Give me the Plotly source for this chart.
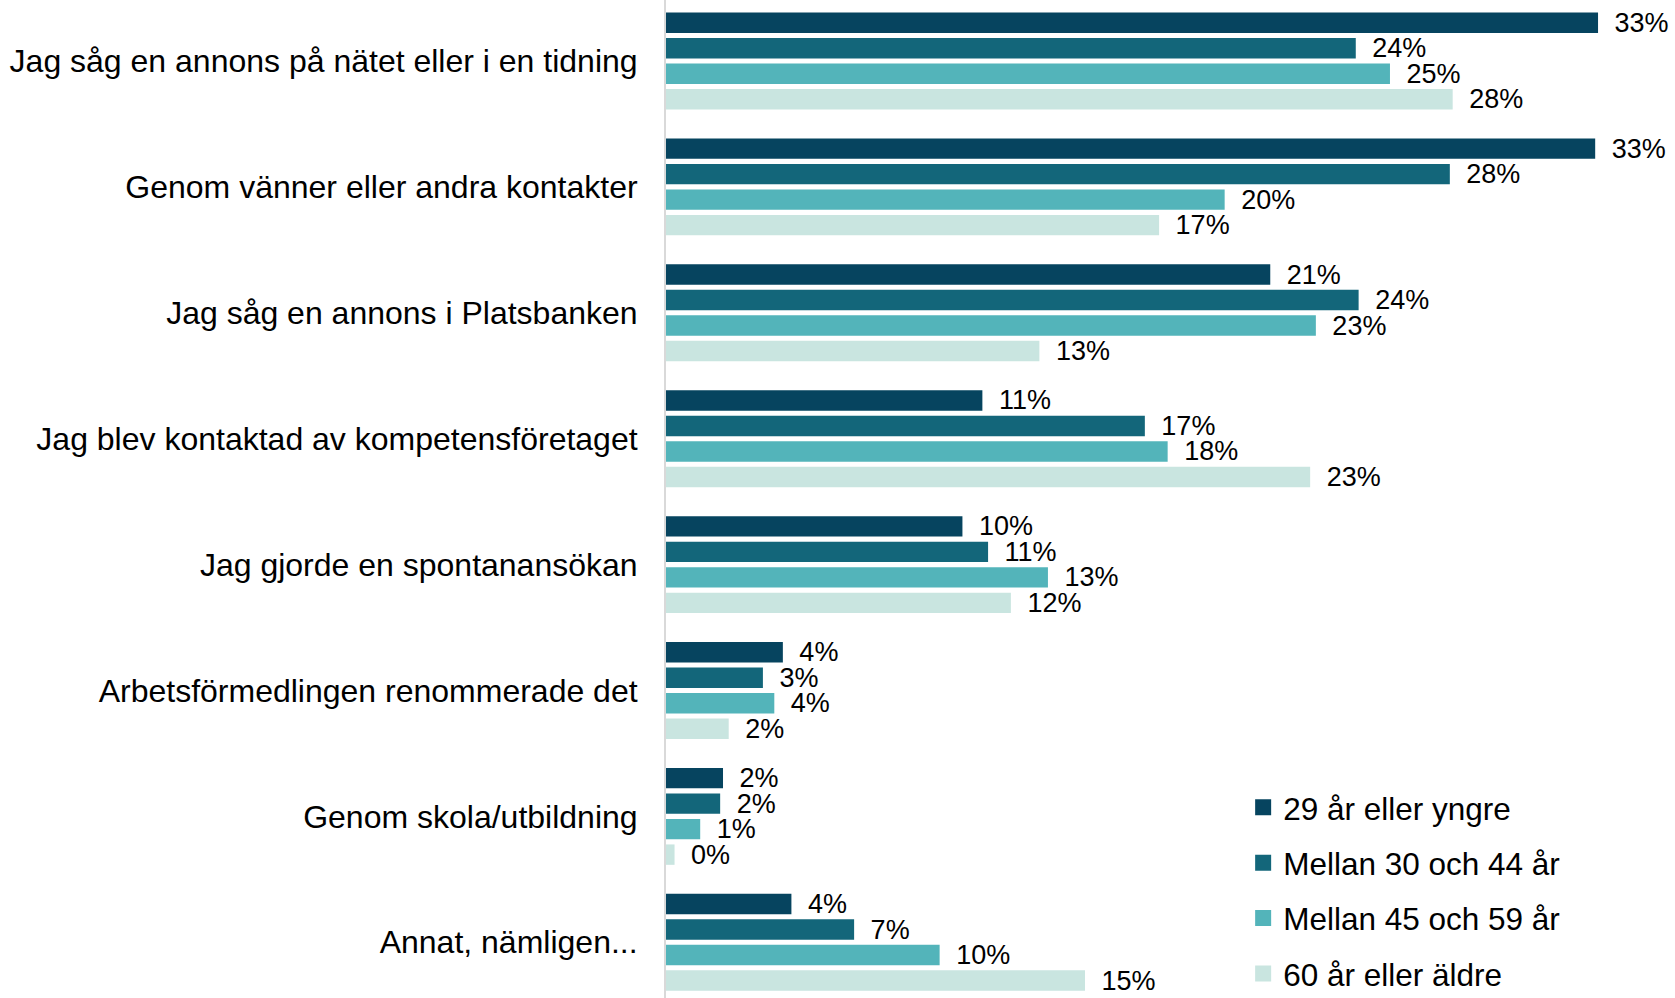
import plotly.graph_objects as go

categories = [
    "Jag såg en annons på nätet eller i en tidning",
    "Genom vänner eller andra kontakter",
    "Jag såg en annons i Platsbanken",
    "Jag blev kontaktad av kompetensföretaget",
    "Jag gjorde en spontanansökan",
    "Arbetsförmedlingen renommerade det",
    "Genom skola/utbildning",
    "Annat, nämligen...",
]
series_names = ["29 år eller yngre", "Mellan 30 och 44 år", "Mellan 45 och 59 år", "60 år eller äldre"]
age_29 = [32.7, 32.6, 21.2, 11.1, 10.4, 4.1, 2.0, 4.4]
age_30_44 = [24.2, 27.5, 24.3, 16.8, 11.3, 3.4, 1.9, 6.6]
age_45_59 = [25.4, 19.6, 22.8, 17.6, 13.4, 3.8, 1.2, 9.6]
age_60 = [27.6, 17.3, 13.1, 22.6, 12.1, 2.2, 0.3, 14.7]
colors = ["#06445F", "#13667A", "#53B4BA", "#C9E5E0"]

series = [age_29, age_30_44, age_45_59, age_60]

fig = go.Figure()
for name, vals, col in zip(series_names, series, colors):
    fig.add_trace(go.Bar(
        y=categories, x=vals, orientation="h", name=name,
        marker=dict(color=col, line=dict(width=0)),
        text=[f"\u2002{int(v + 0.5)}%" for v in vals],
        textposition="outside", constraintext="none", cliponaxis=False,
        textfont=dict(size=27, color="#000000", family="Liberation Sans, Arial, sans-serif"),
        showlegend=False, hoverinfo="skip",
    ))
for i, (name, col) in enumerate(zip(series_names, colors)):
    fig.add_trace(go.Scatter(
        x=[None], y=[None], mode="markers", name=name,
        marker=dict(symbol="square", size=16, color=col),
        legendgroup=f"g{i}", showlegend=True,
    ))

fig.update_layout(
    width=1675, height=998,
    margin=dict(l=666, r=0, t=0, b=0, autoexpand=False),
    paper_bgcolor="white", plot_bgcolor="white",
    barmode="group", bargap=0.19, bargroupgap=0.2,
    font=dict(family="Liberation Sans, Arial, sans-serif", color="#000000"),
    legend=dict(
        x=0.572, y=-0.0024, xanchor="left", yanchor="bottom",
        font=dict(size=31.5, color="#000000"),
        tracegroupgap=11.4, bgcolor="rgba(0,0,0,0)",
        traceorder="grouped",
    ),
    xaxis=dict(visible=False, range=[0, 35.4]),
    yaxis=dict(
        range=[7.4425, -0.4845], showline=True, linecolor="#d9d9d9", linewidth=2,
        showgrid=False, zeroline=False, ticks="", ticklabelstandoff=20,
        tickfont=dict(size=32, color="#000000"),
    ),
)

fig.write_html(
    "out.html",
    config={"displayModeBar": False},
    post_script="document.body.style.margin='0px';document.body.style.overflow='hidden';",
)
